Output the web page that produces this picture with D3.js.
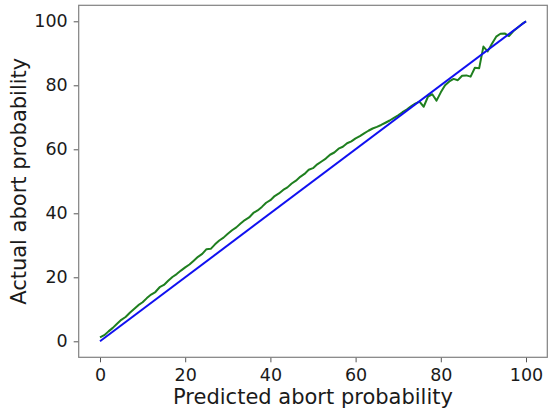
<!DOCTYPE html>
<html>
<head>
<meta charset="utf-8">
<script src="https://cdn.jsdelivr.net/npm/d3@7"></script>
<style>
  body { margin: 0; background: #fff; }
  text { font-family: "DejaVu Sans", sans-serif; fill: #1a1a1a; }
</style>
</head>
<body>
<div id="chart"></div>
<script>
// Predicted probability bins (0..100)
var predicted = d3.range(0, 101);

var actual = [
  1.2, 1.9, 3.1, 4.2, 5.5, 6.7, 7.6, 8.9, 10.1, 11.3,
  12.2, 13.5, 14.6, 15.4, 16.9, 17.6, 18.9, 20.1, 21.0, 22.1,
  23.1, 24.0, 25.2, 26.4, 27.3, 28.8, 28.9, 30.3, 31.5, 32.4,
  33.6, 34.7, 35.6, 36.8, 37.9, 38.7, 40.1, 40.9, 42.0, 43.3,
  44.1, 45.4, 46.2, 47.3, 48.1, 49.3, 50.2, 51.4, 52.3, 53.6,
  54.1, 55.3, 56.2, 57.1, 58.3, 59.0, 60.2, 60.8, 61.9, 62.5,
  63.4, 64.1, 65.0, 65.8, 66.5, 67.0, 67.6, 68.3, 69.0, 69.8,
  70.6, 71.6, 72.4, 73.4, 74.3, 74.9, 73.3, 76.5, 77.2, 75.2,
  77.8, 80.0, 81.2, 82.0, 81.6, 83.0, 83.1, 82.7, 85.5, 85.3,
  92.1, 90.6, 93.0, 95.2, 96.1, 96.2, 95.4, 96.9, 98.0, 99.1,
  100.0
];

// Perfect calibration reference line
var idealX = [0, 100];
var idealY = [0, 100];

var xTicks = [0, 20, 40, 60, 80, 100];
var yTicks = [0, 20, 40, 60, 80, 100];

var divWidth = 548,
    divHeight = 413,
    margin = {top: 5.3, left: 78.7, bottom: 55.7, right: 0.7},
    width = divWidth - margin.left - margin.right,
    height = divHeight - margin.top - margin.bottom;

var svg = d3.select("#chart")
  .append("svg")
  .attr("width", divWidth)
  .attr("height", divHeight);

var x = d3.scaleLinear().domain([-5, 105]).range([margin.left, margin.left + width]);
var y = d3.scaleLinear().domain([-5, 105]).range([margin.top + height, margin.top]);

var line = d3.line()
  .x(d => x(d[0]))
  .y(d => y(d[1]));

// Green: actual vs predicted
svg.append("path")
  .datum(predicted.map((p, i) => [p, actual[i]]))
  .attr("fill", "none")
  .attr("stroke", "#1f7f1f")
  .attr("stroke-width", 2)
  .attr("stroke-linejoin", "round")
  .attr("d", line);

// Blue: ideal
svg.append("path")
  .datum(idealX.map((p, i) => [p, idealY[i]]))
  .attr("fill", "none")
  .attr("stroke", "#1010f0")
  .attr("stroke-width", 2)
  .attr("d", line);

var xAxis = svg.append("g")
  .attr("transform", `translate(0,${margin.top + height})`)
  .call(d3.axisBottom(x).tickValues(xTicks).tickSize(5).tickPadding(6).tickSizeOuter(0));

var yAxis = svg.append("g")
  .attr("transform", `translate(${margin.left},0)`)
  .call(d3.axisLeft(y).tickValues(yTicks).tickSize(5).tickPadding(6).tickSizeOuter(0));

[xAxis, yAxis].forEach(function (a) {
  a.select(".domain").remove();
  a.selectAll(".tick line").attr("stroke", "#555");
  a.selectAll(".tick text")
    .attr("fill", "#1a1a1a")
    .style("font-family", "DejaVu Sans, sans-serif")
    .style("font-size", "17.5px");
});

// Axes frame
svg.append("rect")
  .attr("x", margin.left)
  .attr("y", margin.top)
  .attr("width", width)
  .attr("height", height)
  .attr("fill", "none")
  .attr("stroke", "#808080")
  .attr("stroke-width", 1.2);

// Axis labels
svg.append("text")
  .attr("transform", "translate(" + (margin.left + width / 2) + ", " + 404 + ")")
  .style("text-anchor", "middle")
  .style("font-size", "21px")
  .text("Predicted abort probability");

svg.append("text")
  .attr("transform", "translate(" + 26 + ", " + (margin.top + height / 2) + ") rotate(-90)")
  .style("text-anchor", "middle")
  .style("font-size", "21px")
  .text("Actual abort probability");
</script>
</body>
</html>
